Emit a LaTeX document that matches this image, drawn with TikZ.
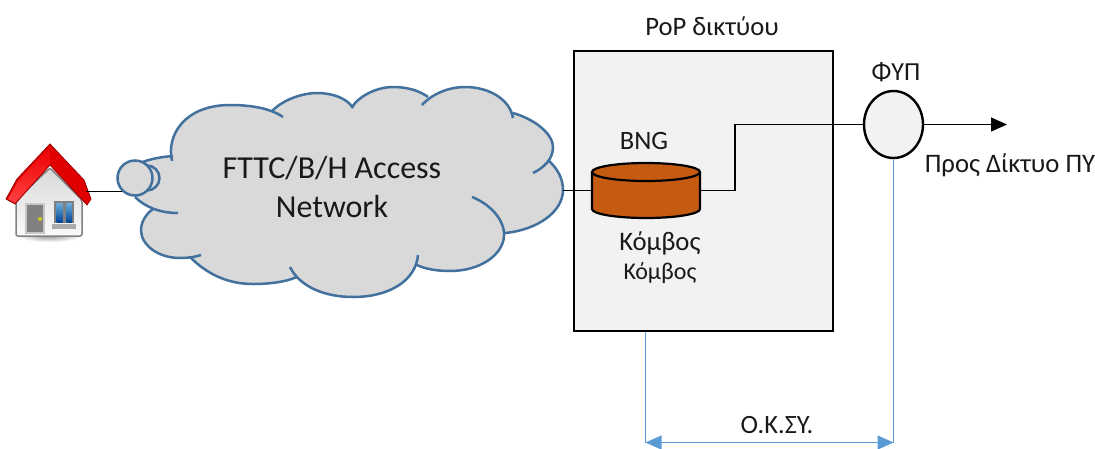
\documentclass[tikz,border=0pt]{standalone}
\usepackage{fontspec}
\setmainfont{Carlito}
\usetikzlibrary{arrows.meta,shapes.geometric,shadings}
\definecolor{cloudline}{HTML}{41719C}
\definecolor{cloudfill}{HTML}{D9D9D9}
\definecolor{boxfill}{HTML}{F2F2F2}
\definecolor{okblue}{HTML}{5B9BD5}
\definecolor{cyl}{HTML}{C55A11}
\newcommand{\lobeA}{(172,161) .. controls (166,135) and (185,105) .. (230,105) .. controls (250,105) and (270,108) .. (283,117)}
\newcommand{\lobeB}{(272,111) .. controls (285,98) and (305,93) .. (317,93) .. controls (332,93) and (347,98) .. (353,108)}
\newcommand{\lobeC}{(352,107) .. controls (360,95) and (378,87) .. (393,87) .. controls (408,87) and (420,91) .. (428,97)}
\newcommand{\lobeD}{(422,105) .. controls (433,93) and (450,87) .. (465,87) .. controls (490,87) and (510,100) .. (513,118)}
\newcommand{\lobeE}{(513,113) .. controls (537,120) and (553,135) .. (553,147) .. controls (553,160) and (543,168) .. (533,173)}
\newcommand{\lobeF}{(548,160) .. controls (557,168) and (563,178) .. (563,190) .. controls (563,212) and (537,230) .. (505,233)}
\newcommand{\lobeG}{(472,197) .. controls (490,204) and (505,220) .. (504,236) .. controls (503,255) and (480,271) .. (450,271) .. controls (437,271) and (425,269) .. (417,265)}
\newcommand{\lobeH}{(418,255) .. controls (416,280) and (390,297) .. (353,297) .. controls (325,297) and (300,287) .. (290,267)}
\newcommand{\lobeI}{(297,277) .. controls (285,282) and (270,284) .. (253,284) .. controls (225,284) and (205,272) .. (190,257)}
\newcommand{\lobeJ}{(201,255) .. controls (195,257) and (188,258) .. (180,258) .. controls (158,258) and (141,245) .. (141,230) .. controls (141,222) and (146,214) .. (153,209)}
\newcommand{\lobeK}{(178,213) .. controls (160,213) and (145,207) .. (135,197)}
\newcommand{\lobeL}{(140,163) .. controls (150,159) and (160,157) .. (173,156)}
\tikzset{
  lobe/.style={draw=cloudline,line width=2.5pt},
  wire/.style={draw=black,line width=1.1pt},
  bluewire/.style={draw=okblue,line width=1.2pt},
  label/.style={inner sep=0pt,text=black!90,align=center},
  headtip/.style={-{Triangle[length=16pt,width=14pt]}},
  bluetips/.style={{Triangle[length=16pt,width=14pt,fill=okblue]}-{Triangle[length=16pt,width=14pt,fill=okblue]}},
}
\begin{document}
\begin{tikzpicture}[x=1pt,y=-1pt]
\useasboundingbox (0,0) rectangle (1095,448);
\fill[white] (0,0) rectangle (1095,448);

% house
\shade[inner color=black!40,outer color=white] (49,236) ellipse (32 and 6);
\path[draw=black!50,line width=1.5pt,top color=black!15,bottom color=black!2,rounded corners=2pt]
  (16,200) -- (50,168) -- (82,200) -- (82,236) -- (16,236) -- cycle;
\path[fill=black!50,draw=black!22,line width=1.2pt] (26,204) rectangle (44,233);
\fill[yellow!75!black] (40,219) circle (2.2);
\path[fill=black!50] (54,201) rectangle (74,223);
\path[top color=blue!40!cyan!50!white!85!black,bottom color=blue!55!cyan!60!black] (56.5,203) rectangle (62.5,222);
\path[top color=blue!40!cyan!50!white!85!black,bottom color=blue!55!cyan!60!black] (66.5,203) rectangle (72,222);
\fill[black!33] (52,224) rectangle (76,229);
\path[draw=red!60!black,line width=0.8pt,fill=red!88!black]
  (50,144) -- (84,180) -- (91,199) -- (87,205) -- (50,165) -- (15,204) -- (6,199) -- (17,179) -- cycle;
\path[top color=red!92!black,bottom color=red!75!white] (50,146) -- (50,164) -- (15,203) -- (8,199) -- (18,181) -- cycle;
\node[inner sep=0pt,minimum width=86pt,minimum height=93pt] (house) at (48.5,190.5) {};

% cloud
\fill[cloudfill] (200,130) -- (500,120) -- (540,190) -- (480,250) -- (350,280) -- (200,240) -- (160,190) -- cycle;
\fill[cloudfill] \lobeA -- \lobeB -- \lobeC -- \lobeD -- \lobeE -- \lobeF -- (504,236) .. controls (503,255) and (480,271) .. (450,271) .. controls (437,271) and (425,269) .. (417,265) -- \lobeH -- \lobeI -- \lobeJ -- \lobeK -- (128,180) -- \lobeL -- cycle;
\draw[lobe] \lobeA;
\draw[lobe] \lobeB;
\draw[lobe] \lobeC;
\draw[lobe] \lobeD;
\draw[lobe] \lobeE;
\draw[lobe] \lobeF;
\draw[lobe] \lobeG;
\draw[lobe] \lobeH;
\draw[lobe] \lobeI;
\draw[lobe] \lobeJ;
\draw[lobe] \lobeK;
\draw[lobe] \lobeL;
\node[circle,draw=cloudline,fill=cloudfill,line width=2.5pt,inner sep=0pt,minimum size=25pt] (bubbleback) at (147,178) {};
\node[circle,draw=cloudline,fill=cloudfill,line width=2.5pt,inner sep=0pt,minimum size=35pt] (bubble) at (135,178) {};
\coordinate (cloudright) at (563,190.5);
\node[label,font=\fontsize{32}{39}\selectfont] (cloudtext) at (332,187.5) {FTTC/B/H Access\\Network};

\coordinate (houseport) at (86,191.5);
\draw[wire] (houseport) -- (bubble.south west |- houseport);

% PoP
\node[draw=black,fill=boxfill,line width=2.6pt,inner sep=0pt,minimum width=259pt,minimum height=280pt] (pop) at (703.5,191) {};
\node[label,font=\fontsize{26.6}{30}\selectfont] (poplabel) at (712,26) {PoP δικτύου};

% BNG cylinder
\node[inner sep=0pt,minimum width=108pt,minimum height=55pt] (bng) at (646,190.5) {};
\draw[wire] (cloudright) -- (bng.west);
\path[fill=cyl,draw=black,line width=2.2pt] (592,172) -- (592,209) arc[start angle=180,end angle=360,x radius=54,y radius=-9] -- (700,172);
\path[fill=cyl,draw=black,line width=2.2pt] (646,172) ellipse (54 and 9);
\node[label,font=\fontsize{26.5}{30}\selectfont] (bnglabel) at (644,141) {BNG};
\node[label,font=\fontsize{26.7}{30}\selectfont] (node1) at (660,243) {Κόμβος};
\node[label,font=\fontsize{24}{28}\selectfont] (node2) at (660,273) {Κόμβος};

% FYP
\node[ellipse,draw=black,fill=boxfill,line width=2.4pt,inner sep=0pt,minimum width=59pt,minimum height=67pt] (fyp) at (893.5,124.5) {};
\node[label,font=\fontsize{26}{30}\selectfont] (fyplabel) at (896,72) {ΦΥΠ};
\draw[wire] (bng.east) -- (735,190.5) -- (735,124.5) -- (fyp.west);
\coordinate (exit) at (1007,124.5);
\draw[wire,headtip] (fyp.east) -- (exit);
\node[label,font=\fontsize{26.7}{30}\selectfont] (exitlabel) at (1010,165) {Προς Δίκτυο ΠΥ};

% distance
\coordinate (dimleft) at (645.5,442.5);
\coordinate (dimright) at (893.5,442.5);
\draw[bluewire] (pop.south -| dimleft) -- (dimleft);
\draw[bluewire] (fyp.south) -- (dimright);
\draw[bluewire,bluetips] (dimleft) -- (dimright);
\node[label,font=\fontsize{26.4}{30}\selectfont] (dimlabel) at (777,425.5) {Ο.Κ.ΣΥ.};
\end{tikzpicture}
\end{document}
